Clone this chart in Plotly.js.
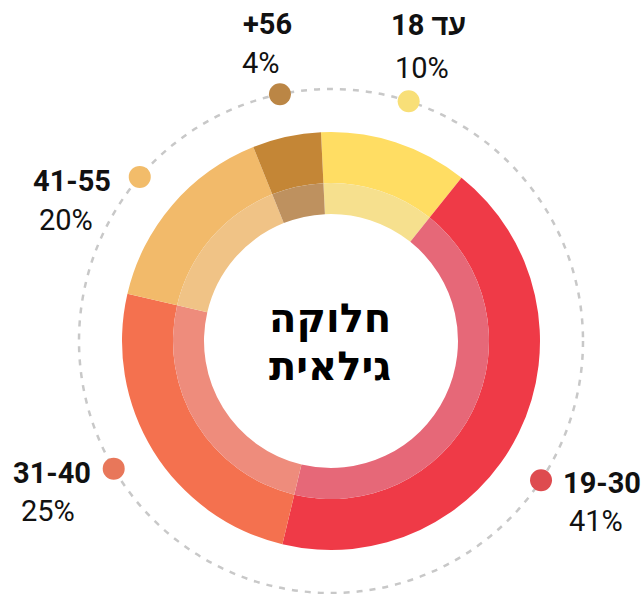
<!DOCTYPE html>
<html>
<head>
<meta charset="utf-8">
<script src="https://cdn.plot.ly/plotly-3.0.1.min.js"></script>
<style>html,body{margin:0;padding:0;background:#fff;}#chart{width:644px;height:594px;}</style>
</head>
<body>
<div id="chart"></div>
<script>
// ---- data ----
const ageGroups = ['עד 18', '19-30', '31-40', '41-55', '+56'];
const printedPct = [10, 41, 25, 20, 4];
const arcShares = [11.5, 43.0, 24.9, 15.3, 5.3];
const outerColors = ['#FFDD63', '#EF3A47', '#F4714F', '#F2BA6A', '#C48636'];
const innerColors = ['#F6E08E', '#E66878', '#EE8C7C', '#F0C386', '#BE915F'];
const dotColors = ['#F8DF78', '#DE4B4F', '#E8775A', '#F2BC6A', '#BB8645'];
const centerTitle = ['חלוקה', 'גילאית'];

// ---- geometry (pixels) ----
const W = 644, H = 594;
const cx = 331, cy = 341;           // donut centre (from top)
const rOuter = 209, rMid = 158, rDash = 252;
const startAngle = -2.75;
const dotNudge = [0, 7.5, 1.3, 0, 0.6];   // degrees, marker placement tweak

function dom(r) {
  return {
    x: [(cx - r) / W, (cx + r) / W],
    y: [(H - cy - r) / H, (H - cy + r) / H]
  };
}

const total = arcShares.reduce((a, b) => a + b, 0);
let acc = 0;
const midTheta = arcShares.map((v, i) => {
  const m = startAngle + (acc + v / 2) / total * 360 + dotNudge[i];
  acc += v;
  return m;
});

const traces = [
  {
    type: 'pie', values: arcShares, labels: ageGroups, sort: false,
    direction: 'clockwise', rotation: startAngle, hole: rMid / rOuter,
    marker: {colors: outerColors, line: {width: 0}},
    textinfo: 'none', hoverinfo: 'label+percent', domain: dom(rOuter)
  },
  {
    type: 'pie', values: arcShares, labels: ageGroups, sort: false,
    direction: 'clockwise', rotation: startAngle, hole: 127 / rMid,
    marker: {colors: innerColors, line: {width: 0}},
    textinfo: 'none', hoverinfo: 'label+percent', domain: dom(rMid)
  },
  {
    type: 'scatterpolar', mode: 'markers',
    r: arcShares.map(() => 1), theta: midTheta,
    marker: {size: 22, color: dotColors},
    hoverinfo: 'skip', subplot: 'polar'
  }
];

const pd = dom(rDash);

const labelFont = {family: 'Roboto, sans-serif', size: 29, color: '#111'};
const labelPos = [
  {x: 428, y1: 25, x2: 422, y2: 68},
  {x: 602, y1: 483, x2: 596, y2: 521},
  {x: 52, y1: 473, x2: 48, y2: 511},
  {x: 72, y1: 181, x2: 66, y2: 220},
  {x: 267, y1: 24, x2: 261, y2: 63}
];
const annotations = [];
ageGroups.forEach((g, i) => {
  const p = labelPos[i];
  const txt = /[\u0590-\u05FF]/.test(g) ? '\u202B' + g + '\u202C' : g;
  annotations.push({
    xref: 'paper', yref: 'paper', x: p.x / W, y: 1 - p.y1 / H,
    xanchor: 'center', yanchor: 'middle', showarrow: false,
    text: '<b>' + txt + '</b>', font: labelFont
  });
  annotations.push({
    xref: 'paper', yref: 'paper', x: p.x2 / W, y: 1 - p.y2 / H,
    xanchor: 'center', yanchor: 'middle', showarrow: false,
    text: printedPct[i] + '%', font: labelFont
  });
});
const titleY = [318, 366];
centerTitle.forEach((t, i) => {
  annotations.push({
    xref: 'paper', yref: 'paper', x: 330 / W, y: 1 - titleY[i] / H,
    xanchor: 'center', yanchor: 'middle', showarrow: false,
    text: '<b>' + t + '</b>',
    font: {family: 'DejaVu Sans, sans-serif', size: 40, color: '#000'}
  });
});

const layout = {
  width: W, height: H,
  margin: {l: 0, r: 0, t: 0, b: 0},
  paper_bgcolor: '#fff', plot_bgcolor: '#fff',
  showlegend: false,
  polar: {
    domain: pd, bgcolor: 'rgba(0,0,0,0)',
    radialaxis: {visible: false, range: [0, 1]},
    angularaxis: {visible: false, rotation: 90, direction: 'clockwise'}
  },
  shapes: [{
    type: 'circle', xref: 'paper', yref: 'paper', layer: 'below',
    x0: (cx - rDash) / W, x1: (cx + rDash) / W,
    y0: (H - cy - rDash) / H, y1: (H - cy + rDash) / H,
    line: {color: '#C8C8C8', width: 2.5, dash: '6px,7px'}
  }],
  annotations: annotations
};

Plotly.newPlot('chart', traces, layout, {displayModeBar: false, staticPlot: true});
</script>
</body>
</html>
